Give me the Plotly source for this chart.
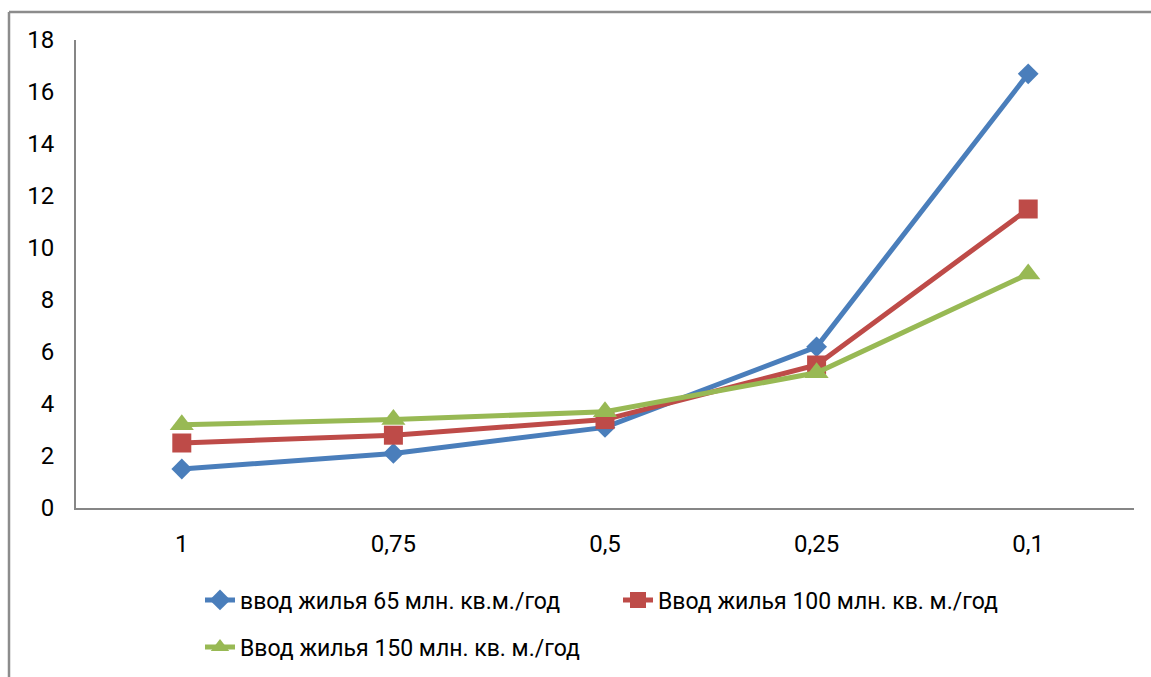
import plotly.graph_objects as go

categories = ["1", "0,75", "0,5", "0,25", "0,1"]
series_65 = [1.5, 2.1, 3.1, 6.2, 16.7]
series_100 = [2.5, 2.8, 3.4, 5.5, 11.5]
series_150 = [3.2, 3.4, 3.7, 5.2, 9.0]
names = [
    "ввод жилья 65 млн. кв.м./год",
    "Ввод жилья 100 млн. кв. м./год",
    "Ввод жилья 150 млн. кв. м./год",
]
y_ticks = [0, 2, 4, 6, 8, 10, 12, 14, 16, 18]

FONT = "Roboto"
FS = 24
W, H = 1151, 677
ML, MR, MT, MB = 76, 17, 40, 169
PW = W - ML - MR
PH = H - MT - MB


def px_x(p):
    return (p - ML) / PW


def px_y(p):
    return (H - MB - p) / PH


fig = go.Figure()
styles = [
    ("#4A7EBB", "diamond", 16, "legend"),
    ("#BE4B48", "square", 19, "legend2"),
    ("#98B954", "triangle-up", 21, "legend3"),
]
for vals, name, (col, sym, ms, lg) in zip([series_65, series_100, series_150], names, styles):
    fig.add_trace(go.Scatter(
        x=categories, y=vals, name=name, mode="lines+markers",
        line=dict(color=col, width=5),
        marker=dict(symbol=sym, size=ms, color=col),
        legend=lg,
    ))

legend_common = dict(orientation="h", xanchor="left", yanchor="middle",
                     xref="container", yref="container",
                     font=dict(family=FONT, size=FS - 1, color="#000000"),
                     bgcolor="rgba(0,0,0,0)")

fig.update_layout(
    width=W, height=H,
    margin=dict(l=ML, r=MR, t=MT, b=MB, autoexpand=False),
    paper_bgcolor="white", plot_bgcolor="white",
    font=dict(family=FONT, size=FS, color="#000000"),
    showlegend=True,
    legend=dict(x=200 / W, y=1 - 600 / H, **legend_common),
    legend2=dict(x=618 / W, y=1 - 600 / H, **legend_common),
    legend3=dict(x=200 / W, y=1 - 647 / H, **legend_common),
    xaxis=dict(
        type="category", range=[-0.5, 4.5],
        showline=True, linecolor="#868686", linewidth=2,
        showgrid=False, zeroline=False, ticks="",
        ticklabelstandoff=13,
        tickfont=dict(family=FONT, size=FS),
    ),
    yaxis=dict(
        range=[0, 18], tickvals=y_ticks,
        showline=True, linecolor="#868686", linewidth=2,
        showgrid=False, zeroline=False, ticks="",
        ticklabelstandoff=15,
        tickfont=dict(family=FONT, size=FS),
    ),
    shapes=[
        dict(type="line", xref="paper", yref="paper",
             x0=px_x(9), x1=px_x(1200), y0=px_y(12), y1=px_y(12),
             line=dict(color="#8C8C8C", width=2.5)),
        dict(type="line", xref="paper", yref="paper",
             x0=px_x(9), x1=px_x(9), y0=px_y(12), y1=px_y(720),
             line=dict(color="#8C8C8C", width=2.5)),
    ],
)

fig.write_html(
    "out.html",
    config={"displayModeBar": False},
    post_script="document.body.style.margin='0';document.body.style.overflow='hidden';",
)
